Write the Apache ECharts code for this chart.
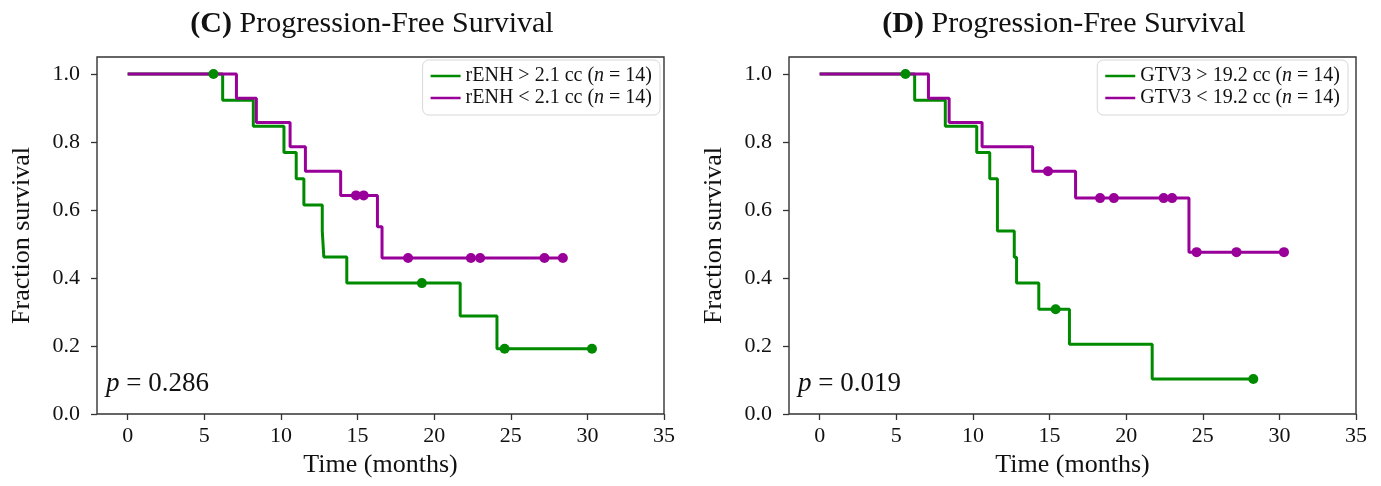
<!DOCTYPE html>
<html>
<head>
<meta charset="utf-8">
<script src="https://cdn.jsdelivr.net/npm/echarts@6/dist/echarts.min.js"></script>
<style>
  html, body { margin: 0; padding: 0; background: #fff; }
  #chart { width: 1381px; height: 486px; }
</style>
</head>
<body>
<div id="chart"></div>
<script>
// axis ticks
var xTicks = [0, 5, 10, 15, 20, 25, 30, 35];
var yTicks = [0, 0.2, 0.4, 0.6, 0.8, 1.0];

// (C) rENH > 2.1 cc  -- step points (time, survival) and censor marks
var cHighTime = [0, 6.2, 8.2, 10.2, 11.0, 11.5, 12.7, 12.8, 14.3, 21.7, 24.1, 30.3];
var cHighSurv = [1.0, 0.923, 0.846, 0.769, 0.692, 0.615, 0.538, 0.462, 0.385, 0.288, 0.192, 0.192];
var cHighCensTime = [5.6, 19.2, 24.6, 30.3];
var cHighCensSurv = [1.0, 0.385, 0.192, 0.192];

// (C) rENH < 2.1 cc
var cLowTime = [0, 7.1, 8.4, 10.6, 11.6, 13.9, 16.3, 16.6, 28.4];
var cLowSurv = [1.0, 0.929, 0.857, 0.786, 0.714, 0.643, 0.551, 0.459, 0.459];
var cLowCensTime = [14.9, 15.4, 18.3, 22.4, 23.0, 27.2, 28.4];
var cLowCensSurv = [0.643, 0.643, 0.459, 0.459, 0.459, 0.459, 0.459];

// (D) GTV3 > 19.2 cc
var dHighTime = [0, 6.2, 8.2, 10.25, 11.1, 11.6, 12.7, 12.85, 14.3, 16.3, 21.7, 28.3];
var dHighSurv = [1.0, 0.923, 0.846, 0.769, 0.692, 0.538, 0.461, 0.385, 0.308, 0.205, 0.103, 0.103];
var dHighCensTime = [5.6, 15.4, 28.3];
var dHighCensSurv = [1.0, 0.308, 0.103];

// (D) GTV3 < 19.2 cc
var dLowTime = [0, 7.1, 8.45, 10.6, 13.9, 16.7, 24.1, 30.3];
var dLowSurv = [1.0, 0.929, 0.857, 0.786, 0.714, 0.635, 0.476, 0.476];
var dLowCensTime = [14.9, 18.3, 19.2, 22.45, 23.0, 24.6, 27.2, 30.3];
var dLowCensSurv = [0.714, 0.635, 0.635, 0.635, 0.635, 0.476, 0.476, 0.476];

var GREEN = '#008a00';
var PURPLE = '#990099';
var FONT = '"Liberation Serif", "Times New Roman", serif';

function pairs(xs, ys) {
    var out = [];
    for (var i = 0; i < xs.length; i++) out.push([xs[i], ys[i]]);
    return out;
}

function stepSeries(name, idx, xs, ys, color) {
    return {
        name: name, type: 'line', step: 'end',
        xAxisIndex: idx, yAxisIndex: idx,
        data: pairs(xs, ys),
        symbol: 'none', color: color,
        lineStyle: { width: 3, color: color },
        z: 2, silent: true
    };
}

function censorSeries(name, idx, xs, ys, color) {
    return {
        name: name, type: 'scatter',
        xAxisIndex: idx, yAxisIndex: idx,
        data: pairs(xs, ys),
        symbol: 'circle', symbolSize: 10,
        itemStyle: { color: color, opacity: 1 },
        z: 3, silent: true
    };
}

function makeXAxis(idx) {
    return {
        type: 'value', gridIndex: idx, min: -2, max: 35,
        name: 'Time (months)', nameLocation: 'middle', nameGap: 38,
        nameTextStyle: { fontFamily: FONT, fontSize: 26, color: '#111' },
        axisLine: { show: false, onZero: false },
        axisTick: { show: true, length: 6, customValues: xTicks, lineStyle: { color: '#333', width: 1.3 } },
        axisLabel: { customValues: xTicks, margin: 11, fontFamily: FONT, fontSize: 22, color: '#111' },
        splitLine: { show: false }
    };
}

function makeYAxis(idx) {
    return {
        type: 'value', gridIndex: idx, min: 0, max: 1.05,
        name: 'Fraction survival', nameLocation: 'middle', nameRotate: 90, nameGap: 62,
        nameTextStyle: { fontFamily: FONT, fontSize: 26, color: '#111' },
        axisLine: { show: false, onZero: false },
        axisTick: { show: true, length: 6, customValues: yTicks, lineStyle: { color: '#333', width: 1.3 } },
        axisLabel: {
            customValues: yTicks, margin: 17, fontFamily: FONT, fontSize: 22, color: '#111',
            formatter: function (v) { return v.toFixed(1); }
        },
        splitLine: { show: false }
    };
}

function makeLegend(names, right) {
    return {
        data: names, orient: 'vertical', right: right, top: 60,
        icon: 'rect', itemWidth: 30, itemHeight: 2.5, itemGap: 2,
        padding: [6, 8, 7, 8],
        borderColor: '#d8d8d8', borderWidth: 1, borderRadius: 6,
        selectedMode: false,
        formatter: function (name) {
            return '{a|' + name + ' (}{i|n}{a| = 14)}';
        },
        textStyle: {
            rich: {
                a: { fontFamily: FONT, fontSize: 20, color: '#111', lineHeight: 23 },
                i: { fontFamily: FONT, fontSize: 20, fontStyle: 'italic', color: '#111', lineHeight: 23 }
            }
        }
    };
}

function titleText(x, label) {
    return {
        type: 'text', x: x, y: 24,
        style: {
            text: '{b|' + label + '}{a| Progression-Free Survival}',
            align: 'center', verticalAlign: 'middle',
            rich: {
                b: { fontFamily: FONT, fontSize: 30, fontWeight: 'bold', fill: '#111' },
                a: { fontFamily: FONT, fontSize: 30, fill: '#111' }
            }
        }
    };
}

function pText(x, value) {
    return {
        type: 'text', x: x, y: 384,
        style: {
            text: '{i|p}{a| = ' + value + '}',
            verticalAlign: 'middle',
            rich: {
                i: { fontFamily: FONT, fontSize: 27, fontStyle: 'italic', fill: '#111' },
                a: { fontFamily: FONT, fontSize: 27, fill: '#111' }
            }
        }
    };
}

var myChart = echarts.init(document.getElementById('chart'), null, { renderer: 'canvas' });

var option = {
    backgroundColor: '#fff',
    animation: false,
    grid: [
        { left: 97, top: 57, width: 567, bottom: 72, show: true, borderColor: '#333', borderWidth: 1.4, backgroundColor: 'transparent' },
        { left: 789, top: 57, width: 567, bottom: 72, show: true, borderColor: '#333', borderWidth: 1.4, backgroundColor: 'transparent' }
    ],
    xAxis: [makeXAxis(0), makeXAxis(1)],
    yAxis: [makeYAxis(0), makeYAxis(1)],
    legend: [
        makeLegend(['rENH > 2.1 cc', 'rENH < 2.1 cc'], 721),
        makeLegend(['GTV3 > 19.2 cc', 'GTV3 < 19.2 cc'], 33)
    ],
    graphic: [
        titleText(372, '(C)'),
        titleText(1064, '(D)'),
        pText(106, '0.286'),
        pText(798, '0.019')
    ],
    series: [
        stepSeries('rENH > 2.1 cc', 0, cHighTime, cHighSurv, GREEN),
        stepSeries('rENH < 2.1 cc', 0, cLowTime, cLowSurv, PURPLE),
        censorSeries('c-high-censor', 0, cHighCensTime, cHighCensSurv, GREEN),
        censorSeries('c-low-censor', 0, cLowCensTime, cLowCensSurv, PURPLE),
        stepSeries('GTV3 > 19.2 cc', 1, dHighTime, dHighSurv, GREEN),
        stepSeries('GTV3 < 19.2 cc', 1, dLowTime, dLowSurv, PURPLE),
        censorSeries('d-high-censor', 1, dHighCensTime, dHighCensSurv, GREEN),
        censorSeries('d-low-censor', 1, dLowCensTime, dLowCensSurv, PURPLE)
    ]
};

myChart.setOption(option);
</script>
</body>
</html>
